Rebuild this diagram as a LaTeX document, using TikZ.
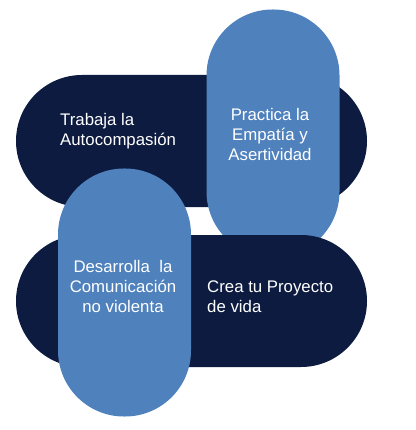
\documentclass[tikz,border=0pt]{standalone}
\usepackage{fontspec}
\setmainfont{Liberation Sans}
\usepackage{tikz}
\definecolor{navy}{HTML}{0C1B3F}
\definecolor{skyblue}{HTML}{4F81BD}
\tikzset{
  hpill/.style={fill=navy, minimum width=351pt, minimum height=132pt,
                rounded corners=66pt, inner sep=0pt},
  vpill/.style={fill=skyblue, minimum width=133pt, minimum height=248pt,
                rounded corners=66pt, inner sep=0pt},
  lbl/.style={text=white, inner sep=0pt, font=\fontsize{16.8}{20}\selectfont},
}
\begin{document}
\begin{tikzpicture}[x=1pt, y=-1pt]
\useasboundingbox (0,0) rectangle (415,430);

% back to front
\node[hpill] (topbar) at (191.5,141) {};
\node[vpill] (rightpill) at (273,133.5) {};
\node[hpill] (bottombar) at (191.5,301) {};
\node[vpill] (leftpill) at (124.5,292.5) {};

% base anchor sits on the last line
\node[lbl, align=left, anchor=base west] (auto) at (60,146)
  {Trabaja la\\Autocompasión};
\node[lbl, align=center, anchor=base] (empatia) at (270,161)
  {Practica la\\Empatía y\\Asertividad};
\node[lbl, align=center, anchor=base] (comunic) at (123,312)
  {Desarrolla\ \ la\\Comunicación\\no violenta};
\node[lbl, align=left, anchor=base west] (proyecto) at (207,312)
  {Crea tu Proyecto\\de vida};

\end{tikzpicture}
\end{document}
